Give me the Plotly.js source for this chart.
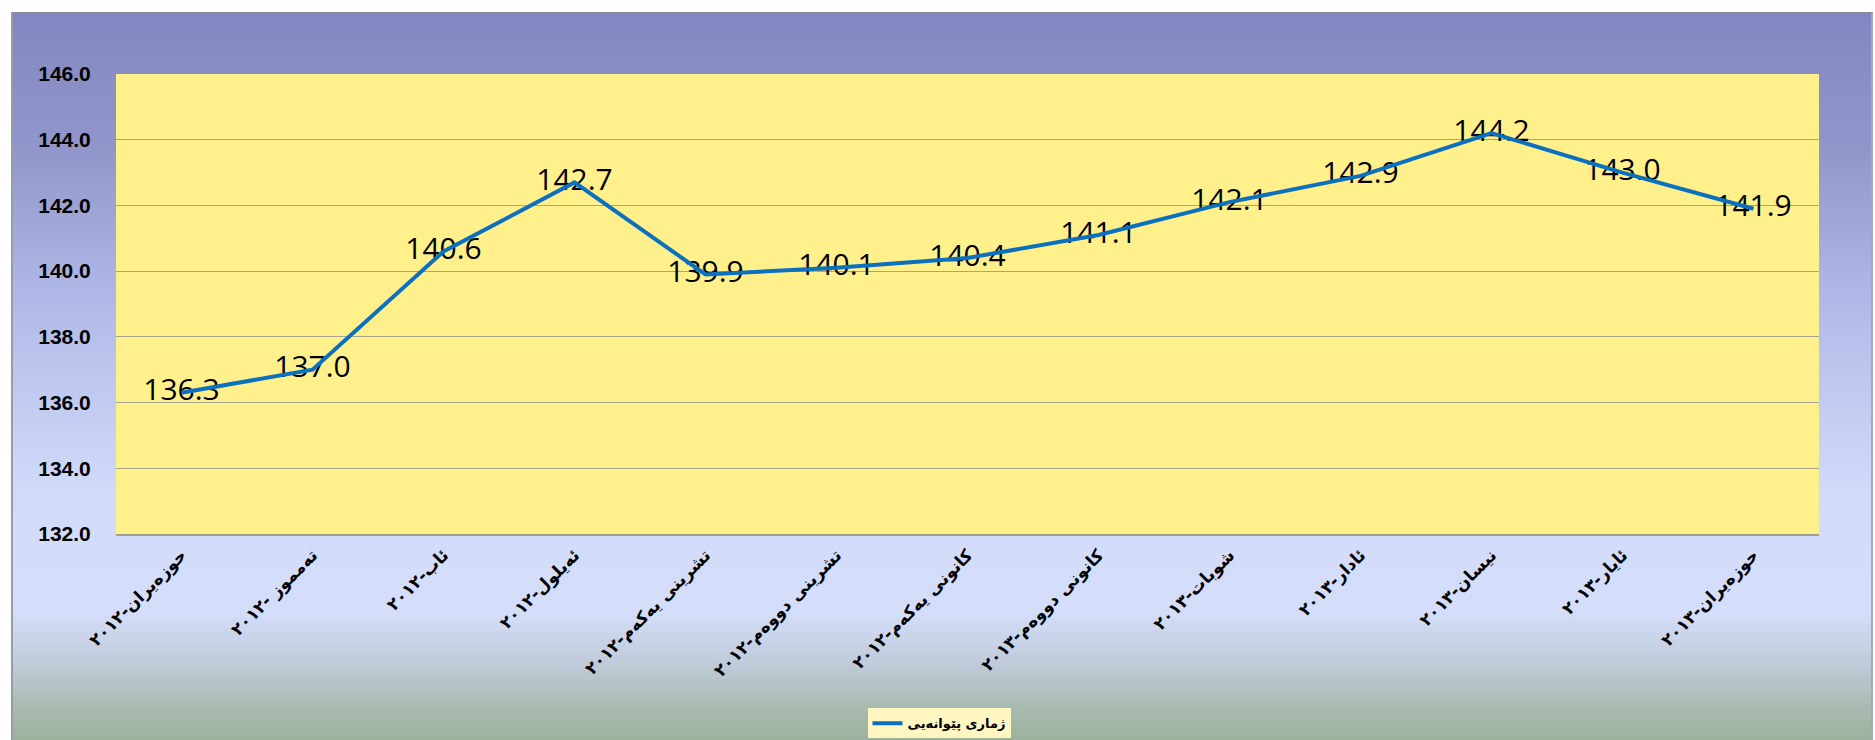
<!DOCTYPE html>
<html>
<head>
<meta charset="utf-8">
<script src="https://cdn.plot.ly/plotly-3.0.1.min.js"></script>
<style>
  html, body { margin: 0; padding: 0; background: #ffffff; }
  #wrap { position: relative; width: 1875px; height: 740px; overflow: hidden; }
  #bg {
    position: absolute; left: 11px; top: 12px; width: 1862px; height: 740px;
    box-sizing: border-box;
    border-top: 2px solid #8a8a9a; border-left: 2px solid #9a9aa8; border-right: 2px solid #a0a8c8;
    background: linear-gradient(to bottom,
      #8387C1 0%, #9096CA 18%, #B2BBE8 40%, #D2DCFA 66%, #D4DEFA 81%,
      #BFCBD9 88%, #A9BBB0 94%, #97AE96 100%);
  }
  #chart { position: absolute; left: 0; top: 0; width: 1875px; height: 740px; }
</style>
</head>
<body>
<div id="wrap">
  <div id="bg"></div>
  <div id="chart"></div>
</div>
<script>
// ---- data ----
const categories = [
  "حوزەیران-٢٠١٢",
  "تەمموز -٢٠١٢",
  "ئاب-٢٠١٢",
  "ئەیلول-٢٠١٢",
  "تشرینی یەکەم-٢٠١٢",
  "تشرینی دووەم-٢٠١٢",
  "کانونی یەکەم-٢٠١٢",
  "کانونی دووەم-٢٠١٣",
  "شوبات-٢٠١٣",
  "ئادار-٢٠١٣",
  "نیسان-٢٠١٣",
  "ئایار-٢٠١٣",
  "حوزەیران-٢٠١٣"
];
const indexValues = [136.3, 137.0, 140.6, 142.7, 139.9, 140.1, 140.4, 141.1, 142.1, 142.9, 144.2, 143.0, 141.9];
const seriesName = "ژماری پێوانەیی";
const yTickValues = [132, 134, 136, 138, 140, 142, 144, 146];
const yTickLabels = ["132.0", "134.0", "136.0", "138.0", "140.0", "142.0", "144.0", "146.0"];

// ---- traces ----
const labelTrace = {
  x: categories,
  y: indexValues,
  type: "scatter",
  mode: "text",
  text: indexValues.map(v => v.toFixed(1)),
  textposition: "middle center",
  textfont: { family: "Open Sans, Lato, sans-serif", size: 30, color: "#000000" },
  showlegend: false,
  hoverinfo: "skip"
};

const lineTrace = {
  x: categories,
  y: indexValues,
  type: "scatter",
  mode: "lines",
  name: seriesName,
  line: { color: "#0B70BE", width: 4 },
  showlegend: true
};

const layout = {
  width: 1875,
  height: 740,
  margin: { l: 116, r: 56, t: 74, b: 206, pad: 0 },
  paper_bgcolor: "rgba(0,0,0,0)",
  plot_bgcolor: "#FFF08C",
  showlegend: true,
  hovermode: false,
  xaxis: {
    type: "category",
    range: [-0.5, 12.5],
    tickangle: -45,
    tickfont: { family: "DejaVu Sans, sans-serif", size: 17, color: "#000000", weight: "bold" },
    ticks: "outside",
    ticklen: 3,
    tickcolor: "rgba(0,0,0,0)",
    showgrid: false,
    showline: true,
    linecolor: "#A09C88",
    linewidth: 1.5,
    zeroline: false,
    fixedrange: true
  },
  yaxis: {
    range: [132, 146],
    tickvals: yTickValues,
    ticktext: yTickLabels,
    tickfont: { family: "Liberation Sans, Arial, sans-serif", size: 21, color: "#000000", weight: "bold" },
    ticks: "outside",
    ticklen: 20,
    tickcolor: "rgba(0,0,0,0)",
    showgrid: true,
    gridcolor: "#A8A48E",
    gridwidth: 1,
    showline: false,
    zeroline: false,
    fixedrange: true
  },
  legend: {
    orientation: "h",
    xref: "container",
    yref: "container",
    x: 0.5008,
    y: 0.043,
    xanchor: "center",
    yanchor: "top",
    bgcolor: "#FFF6C2",
    borderwidth: 0,
    font: { family: "DejaVu Sans, sans-serif", size: 13, color: "#000000", weight: "bold" },
    itemwidth: 30
  }
};

Plotly.newPlot("chart", [labelTrace, lineTrace], layout, { staticPlot: true, displayModeBar: false });
</script>
</body>
</html>
